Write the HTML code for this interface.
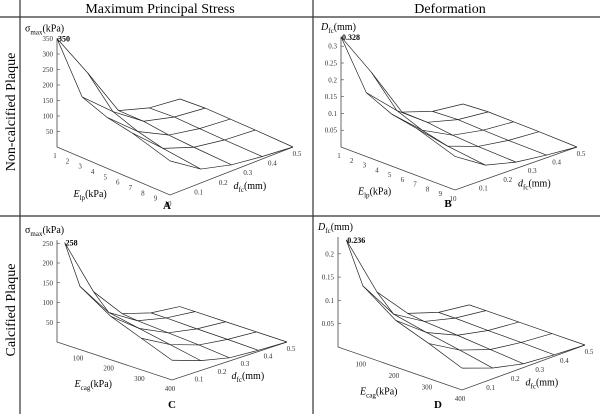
<!DOCTYPE html>
<html><head><meta charset="utf-8"><style>
body{margin:0;background:#fff}
svg{display:block;font-family:"Liberation Serif",serif}
</style></head><body>
<svg id="fig" width="600" height="414" viewBox="0 0 600 414">
<line x1="20" y1="0" x2="20" y2="414" stroke="#333" stroke-width="1.2"/>
<line x1="313" y1="0" x2="313" y2="414" stroke="#333" stroke-width="1.2"/>
<line x1="0" y1="17" x2="600" y2="17" stroke="#333" stroke-width="1.2"/>
<line x1="0" y1="216" x2="600" y2="216" stroke="#333" stroke-width="1.2"/>
<text x="160" y="13" font-size="14" text-anchor="middle">Maximum Principal Stress</text>
<text x="450" y="13" font-size="14" text-anchor="middle">Deformation</text>
<text transform="translate(15,112) rotate(-90)" font-size="14" text-anchor="middle">Non-calcified Plaque</text>
<text transform="translate(15,310) rotate(-90)" font-size="14" text-anchor="middle">Calcified Plaque</text>
<g id="plots"></g>
</svg>
<script>
const dGrid = [0.1,0.2,0.3,0.4,0.5];
const eGridA = [1,3,5,7,10];
const eGridC = [50,100,200,300,400];
const zA = [[350,200,40,10,0],[196,110,40,15,5],[164,80,30,12,4],[148,60,25,10,3],[110,45,20,8,0]];
const zB = [[0.328,0.19,0.04,0.01,0],[0.19,0.105,0.038,0.014,0.005],[0.155,0.075,0.028,0.011,0.004],[0.14,0.056,0.023,0.009,0.003],[0.10,0.042,0.019,0.008,0]];
const zC = [[258,110,30,8,0],[160,70,25,8,0],[110,55,20,6,0],[80,40,15,5,0],[50,25,8,3,0]];
const zD = [[0.236,0.10,0.03,0.008,0],[0.15,0.065,0.025,0.008,0],[0.10,0.05,0.02,0.006,0],[0.075,0.037,0.014,0.005,0],[0.047,0.023,0.008,0.003,0]];
const zTicksA = [50,100,150,200,250,300,350];
const zTicksB = [0.05,0.1,0.15,0.2,0.25,0.3];
const zTicksC = [50,100,150,200,250];
const zTicksD = [0.05,0.1,0.15,0.2];
const eTicksA = [1,2,3,4,5,6,7,8,9,10];
const eTicksC = [100,200,300,400];
const dTicks = [0.1,0.2,0.3,0.4,0.5];
const peakLabels = ['350','0.328','258','0.236'];

const NS='http://www.w3.org/2000/svg';
const root=document.getElementById('plots');
function mk(tag,attrs,parent){const el=document.createElementNS(NS,tag);for(const k in attrs)el.setAttribute(k,attrs[k]);(parent||root).appendChild(el);return el;}

const panels=[
 {id:'a',ox:57,oy:147,ex:113,ey:48,dx:123,dy:-48,e0:1,e1:10,zs:15.5/50,eg:eGridA,z:zA,zt:zTicksA,et:eTicksA,zlab:'σ',zsub:'max',zunit:'(kPa)',esub:'lp',peak:peakLabels[0],letter:'A',lx:167,ly:209},
 {id:'b',ox:341,oy:147,ex:114,ey:43,dx:122,dy:-43,e0:1,e1:10,zs:16.8/0.05,eg:eGridA,z:zB,zt:zTicksB,et:eTicksA,zlab:'D',zsub:'fc',zunit:'(mm)',esub:'lp',peak:peakLabels[1],letter:'B',lx:448,ly:207},
 {id:'c',ox:57,oy:342,ex:115,ey:38,dx:115,dy:-38,e0:25,e1:400,zs:19.75/50,eg:eGridC,z:zC,zt:zTicksC,et:eTicksC,zlab:'σ',zsub:'max',zunit:'(kPa)',esub:'cag',peak:peakLabels[2],letter:'C',lx:172,ly:408},
 {id:'d',ox:338,oy:347,ex:124,ey:43,dx:123,dy:-45,e0:25,e1:400,zs:23.3/0.05,eg:eGridC,z:zD,zt:zTicksD,et:eTicksC,zlab:'D',zsub:'fc',zunit:'(mm)',esub:'cag',peak:peakLabels[3],letter:'D',lx:438,ly:408}
];

panels.forEach(p=>{
 const g=mk('g',{});
 
 
 const P=(e,d,z)=>{const fe=(e-p.e0)/(p.e1-p.e0),fd=(d-0.1)/0.4;return [p.ox+fe*p.ex+fd*p.dx, p.oy+fe*p.ey+fd*p.dy - z*p.zs];};
 const topZ=Math.max(p.zt[p.zt.length-1],p.z[0][0]);
 const o=P(p.e0,0.1,0), fe=P(p.e1,0.1,0), fd=P(p.e1,0.5,0);
 const ax=mk('path',{d:`M${o[0]},${P(p.e0,0.1,topZ)[1]}L${o[0]},${o[1]}L${fe[0]},${fe[1]}L${fd[0]},${fd[1]}`,fill:'none',stroke:'#444','stroke-width':0.8},g);
 
 
 p.zt.forEach(v=>{const q=P(p.e0,0.1,v);
  mk('line',{x1:q[0],y1:q[1],x2:q[0]+3,y2:q[1],stroke:'#444','stroke-width':0.6},g);
  const t=mk('text',{x:q[0]-4,y:q[1]+2.5,'font-size':7,'text-anchor':'end',fill:'#333'},g);t.textContent=String(v);
  
  });
 p.et.forEach(v=>{const q=P(v,0.1,0);
  const t=mk('text',{x:q[0]-2,y:q[1]+11,'font-size':7,'text-anchor':'middle',fill:'#333'},g);t.textContent=String(v);
  
  });
 dTicks.forEach(v=>{const f=v/0.5;const x=fe[0]+f*(fd[0]-fe[0]), y=fe[1]+f*(fd[1]-fe[1]);
  const t=mk('text',{x:x+4,y:y+9,'font-size':7,'text-anchor':'middle',fill:'#333'},g);t.textContent=String(v);
  
  });
 const pts=(arr)=>arr.map(a=>a.join(',')).join(' ');
 p.eg.forEach((e,i)=>{const l=mk('polyline',{points:pts(dGrid.map((d,j)=>P(e,d,p.z[i][j]))),fill:'none',stroke:'#222','stroke-width':0.7},g);
  
  });
 dGrid.forEach((d,j)=>{const l=mk('polyline',{points:pts(p.eg.map((e,i)=>P(e,d,p.z[i][j]))),fill:'none',stroke:'#222','stroke-width':0.7},g);
  
  });
 const pk=P(p.eg[0],0.1,p.z[0][0]);
 const pt=mk('text',{x:pk[0]+1,y:pk[1]+3,'font-size':8,'font-weight':'bold'},g);pt.textContent=p.peak;
 
 
 const zl=mk('text',{x:o[0]-32+(p.zlab==='D'?12:0),y:P(p.e0,0.1,topZ)[1]-7,'font-size':10},g);
 zl.innerHTML=`<tspan font-style="${p.zlab==='D'?'italic':'normal'}">${p.zlab}</tspan><tspan font-size="7" dy="3">${p.zsub}</tspan><tspan dy="-3">(${p.zunit.slice(1,-1)})</tspan>`;
 
 
 const em=P((p.e0+p.e1)/2,0.1,0);
 const el=mk('text',{x:em[0]-40,y:em[1]+26,'font-size':10},g);
 el.innerHTML=`<tspan font-style="italic">E</tspan><tspan font-size="7" dy="3">${p.esub}</tspan><tspan dy="-3">(kPa)</tspan>`;
 
 
 const dx=fe[0]+0.5*(fd[0]-fe[0]), dy=fe[1]+0.5*(fd[1]-fe[1]);
 const dl=mk('text',{x:dx+2,y:dy+18,'font-size':10},g);
 dl.innerHTML=`<tspan font-style="italic">d</tspan><tspan font-size="7" dy="3">fc</tspan><tspan dy="-3">(mm)</tspan>`;
 
 
 const lt=mk('text',{x:p.lx,y:p.ly,'font-size':11,'font-weight':'bold','text-anchor':'middle'},g);lt.textContent=p.letter;
 
 
});
</script>
</body></html>
